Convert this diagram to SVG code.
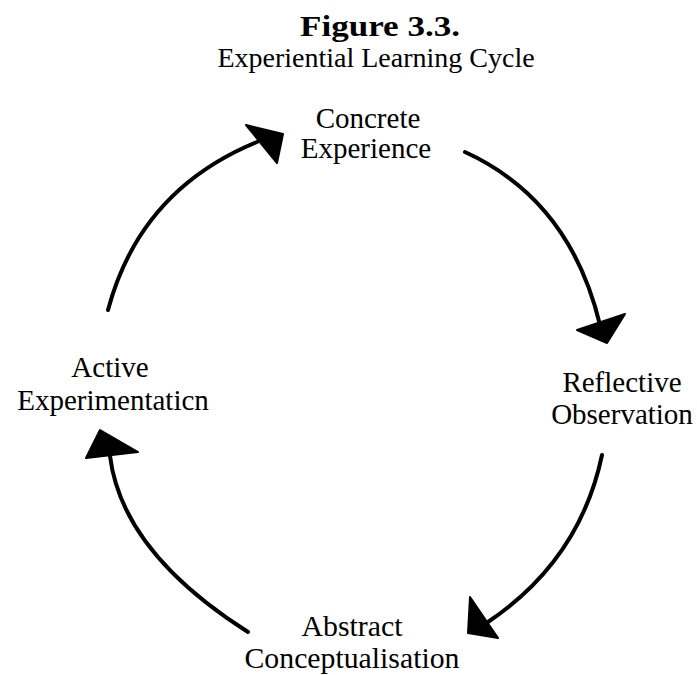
<svg xmlns="http://www.w3.org/2000/svg" width="697" height="675" viewBox="0 0 697 675">
  <style>
    .title { font-family: "Liberation Serif", "Times New Roman", serif; font-weight: bold; font-size: 30px; fill: #000; }
    .sub { font-family: "Liberation Serif", "Times New Roman", serif; font-size: 28px; fill: #000; }
    .label { font-family: "Liberation Serif", "Times New Roman", serif; font-size: 29px; fill: #000; text-anchor: middle; }
    .arc { fill: none; stroke: #000; stroke-width: 4; stroke-linecap: round; }
    .head { fill: #000; stroke: #000; stroke-width: 2; stroke-linejoin: round; }
  </style>
  <rect width="697" height="675" fill="#fff"/>

  <!-- heading -->
  <g id="heading">
    <text class="title" x="380" y="36" text-anchor="middle" textLength="160" lengthAdjust="spacingAndGlyphs">Figure  3.3.</text>
    <text class="sub" x="376" y="67" text-anchor="middle">Experiential Learning Cycle</text>
  </g>

  <!-- stages of the cycle -->
  <g id="concrete-experience">
    <text class="label" x="368" y="128">Concrete</text>
    <text class="label" x="366" y="158">Experience</text>
  </g>
  <g id="reflective-observation">
    <text class="label" x="622" y="392">Reflective</text>
    <text class="label" x="622" y="424">Observation</text>
  </g>
  <g id="abstract-conceptualisation">
    <text class="label" x="352" y="636" textLength="101" lengthAdjust="spacingAndGlyphs">Abstract</text>
    <text class="label" x="352" y="668" textLength="215" lengthAdjust="spacingAndGlyphs">Conceptualisation</text>
  </g>
  <g id="active-experimentation">
    <text class="label" x="110" y="377">Active</text>
    <text class="label" x="113" y="410">Experimentaticn</text>
  </g>

  <!-- curved arrows joining the stages clockwise -->
  <g id="connectors">
    <path class="arc" d="M465,152 Q570,200 600,325"/>
    <polygon class="head" points="577,330 625,314 607,343"/>

    <path class="arc" d="M602,455 Q580,560 488,622"/>
    <polygon class="head" points="470,597 468,633 498,638"/>

    <path class="arc" d="M248,632 Q122,552 110,456"/>
    <polygon class="head" points="100,430 86,458 138,452"/>

    <path class="arc" d="M108,310 Q140,190 257,142"/>
    <polygon class="head" points="246,125 283,134 277,163"/>
  </g>
</svg>
